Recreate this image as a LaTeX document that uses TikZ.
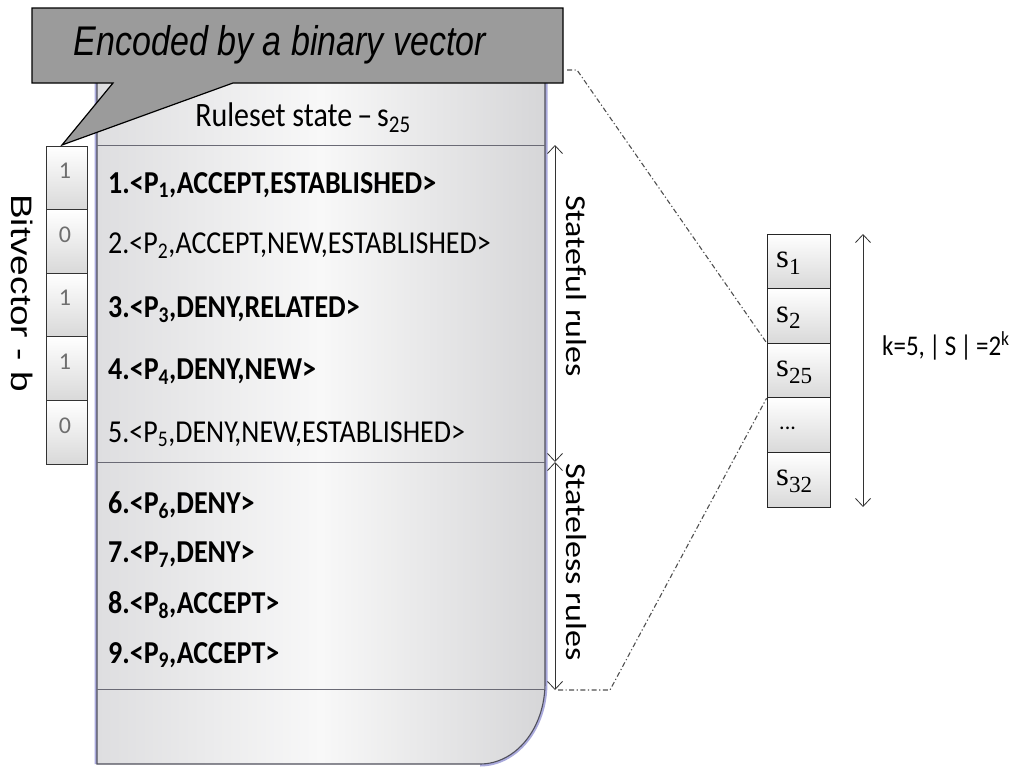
\documentclass[tikz,border=0pt]{standalone}
\usepackage{fontspec}
\setmainfont{Carlito}
\newfontfamily\arialfont{Liberation Sans}
\newfontfamily\seriffont{Liberation Serif}
\usetikzlibrary{arrows.meta}
\definecolor{callgray}{RGB}{155,155,155}
\definecolor{panelside}{RGB}{222,222,224}
\definecolor{panelright}{RGB}{214,214,216}
\definecolor{panelmid}{RGB}{248,248,248}
\definecolor{glow}{RGB}{170,170,220}
\definecolor{edge}{RGB}{80,80,92}
\definecolor{digit}{RGB}{110,110,110}
\definecolor{dashc}{RGB}{80,80,80}
\newcommand\subx[1]{\textsubscript{#1}}
\newcommand\tall[1]{\scalebox{1}[1.14]{#1}}
\tikzset{
  rulebold/.style={anchor=west, inner sep=0pt, font=\fontsize{28}{30}\selectfont\bfseries},
  rulenorm/.style={anchor=west, inner sep=0pt, font=\fontsize{28}{30}\selectfont},
  bitcell/.style={draw=black!80, line width=0.9pt, minimum width=41pt, minimum height=63.6pt, inner sep=0pt,
    top color=white, bottom color=black!15},
  scell/.style={draw=black!85, line width=0.9pt, minimum width=63pt, minimum height=54.6pt, inner sep=0pt,
    top color=white, bottom color=black!15},
  slabel/.style={anchor=west, inner sep=0pt, font=\seriffont\fontsize{33}{35}\selectfont},
  digitlab/.style={inner sep=0pt, text=digit, font=\fontsize{24}{26}\selectfont},
  dbl/.style={{Straight Barb[length=8pt,width=15pt]}-{Straight Barb[length=8pt,width=15pt]}, line width=0.8pt, black!80},
  dashdot/.style={dash pattern=on 5pt off 2.5pt on 1.2pt off 2.5pt, line width=1.1pt, dashc},
  sepline/.style={line width=1pt, edge!85},
}
\begin{document}
\begin{tikzpicture}[x=1pt,y=-1pt]
\useasboundingbox (0,0) rectangle (1012,766);
% panel
\draw[glow, line width=5pt] (97,764) -- (97,70) -- (545,70) -- (545,683)
   .. controls (545,728) and (516,764) .. (480,764);
\shade[left color=panelside, right color=panelright, middle color=panelmid]
   (97,764) -- (97,70) -- (545,70) -- (545,683) .. controls (545,728) and (516,764) .. (480,764) -- cycle;
\draw[edge, line width=1.1pt] (97,764) -- (97,70) -- (545,70) -- (545,683)
   .. controls (545,728) and (516,764) .. (480,764) -- cycle;
\coordinate (pL1) at (97,145); \coordinate (pR1) at (545,145);
\coordinate (pL2) at (97,462); \coordinate (pR2) at (545,462);
\coordinate (pL3) at (97,689); \coordinate (pR3) at (545,689);
\draw[sepline] (pL1) -- (pR1);
\draw[sepline] (pL2) -- (pR2);
\draw[sepline] (pL3) -- (pR3);
\node[inner sep=0pt, font=\fontsize{30}{32}\selectfont] (hdr) at (303,118) {\tall{Ruleset state\,–\,s\subx{25}}};
% rules
\node[rulebold] (r1) at (108,185) {\tall{1.<P\subx{1},ACCEPT,ESTABLISHED>}};
\node[rulenorm] (r2) at (108,246) {\tall{2.<P\subx{2},ACCEPT,NEW,ESTABLISHED>}};
\node[rulebold] (r3) at (108,310) {\tall{3.<P\subx{3},DENY,RELATED>}};
\node[rulebold] (r4) at (108,372) {\tall{4.<P\subx{4},DENY,NEW>}};
\node[rulenorm] (r5) at (108,434) {\tall{5.<P\subx{5},DENY,NEW,ESTABLISHED>}};
\node[rulebold] (r6) at (108,505) {\tall{6.<P\subx{6},DENY>}};
\node[rulebold] (r7) at (108,555) {\tall{7.<P\subx{7},DENY>}};
\node[rulebold] (r8) at (108,605) {\tall{8.<P\subx{8},ACCEPT>}};
\node[rulebold] (r9) at (108,655) {\tall{9.<P\subx{9},ACCEPT>}};
% bitvector
\foreach \i/\d in {0/1,1/0,2/1,3/1,4/0}{
  \node[bitcell] (b\i) at (67,{177.8+63.6*\i}) {};
  \node[digitlab] (d\i) at (65,{171+63.6*\i}) {\d};
}
\node[rotate=-90, inner sep=0pt, font=\arialfont\fontsize{37}{39}\selectfont] (bvl) at (22,293) {\scalebox{1}[0.8]{Bitvector - b}};
% callout
\filldraw[fill=callgray, draw=black, line width=1.2pt] (32,8) -- (563,8) -- (563,83) -- (233,83) -- (62,145) -- (113,83) -- (32,83) -- cycle;
\node[inner sep=0pt, font=\arialfont\itshape\fontsize{34}{36}\selectfont] (calltxt) at (280,45) {\scalebox{1}[1.22]{Encoded by a binary vector}};
% stateful / stateless arrows
\coordinate (sf1) at (555,145); \coordinate (sf2) at (555,462);
\coordinate (sl1) at (555,462); \coordinate (sl2) at (555,690);
\draw[dbl] (sf1) -- (sf2);
\draw[dbl] (sl1) -- (sl2);
\node[rotate=-90, inner sep=0pt, font=\fontsize{34}{36}\selectfont] (sfl) at (576,286) {\scalebox{1}[0.85]{Stateful rules}};
\node[rotate=-90, inner sep=0pt, font=\fontsize{34}{36}\selectfont] (sll) at (576,562) {\scalebox{1}[0.85]{Stateless rules}};
% state cells
\foreach \i in {0,...,4}{
  \node[scell] (c\i) at (798.5,{261.3+54.6*\i}) {};
}
\node[slabel] (t0) at (776,{263}) {s\subx{1}};
\node[slabel] (t1) at (776,{263+54.6}) {s\subx{2}};
\node[slabel] (t2) at (776,{263+109.2}) {s\subx{25}};
\node[inner sep=0pt, anchor=west, font=\fontsize{22}{24}\selectfont] (t3) at (779,{265+163.8}) {...};
\node[slabel] (t4) at (776,{263+218.4}) {s\subx{32}};
\coordinate (ka) at (863,234); \coordinate (kb) at (863,507);
\draw[dbl] (ka) -- (kb);
\node[anchor=west, inner sep=0pt, font=\fontsize{25}{27}\selectfont] (klab) at (882,346) {\tall{k=5,\,|\,S\,|\,=2\textsuperscript{k}}};
% dash-dot zoom lines
\coordinate (z1) at (567,70); \coordinate (z1b) at (577,70);
\coordinate (z2) at (558,690); \coordinate (z2b) at (610,690);
\draw[dashdot] (z1) -- (z1b) -- (c2.north west);
\draw[dashdot] (z2) -- (z2b) -- (c2.south west);
\end{tikzpicture}
\end{document}
